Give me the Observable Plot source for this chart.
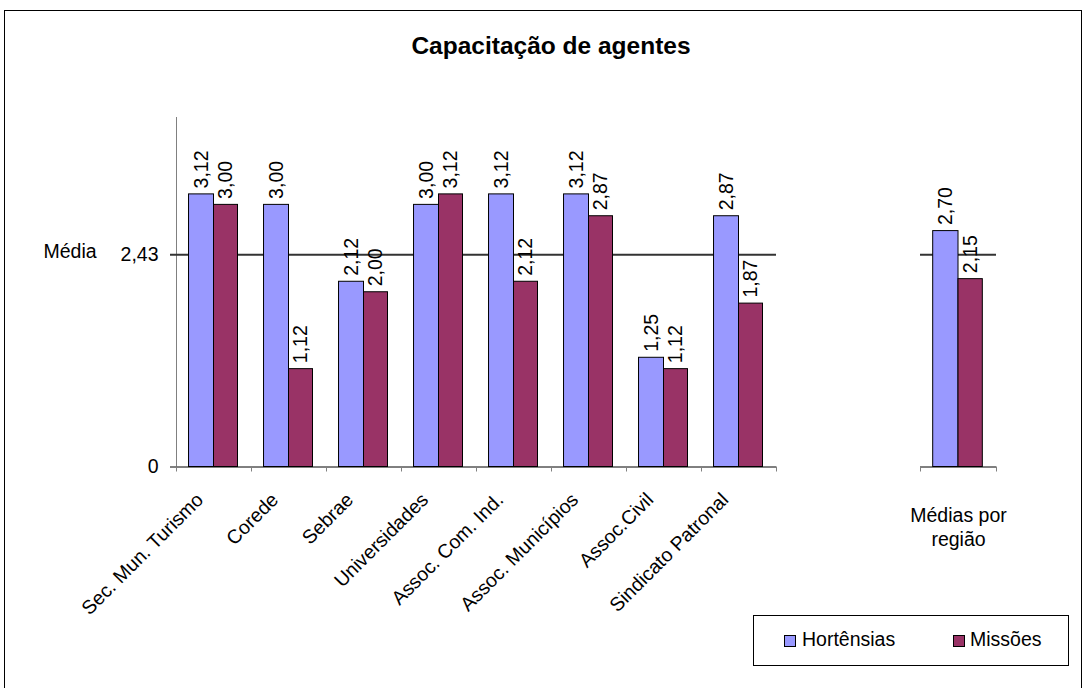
<!DOCTYPE html>
<html>
<head>
<meta charset="utf-8">
<script src="https://cdn.jsdelivr.net/npm/d3@7"></script>
<script src="https://cdn.jsdelivr.net/npm/@observablehq/plot@0.6"></script>
<style>
  html, body { margin: 0; padding: 0; background: #fff; }
  #chart { position: relative; width: 1086px; height: 688px; overflow: hidden;
           font-family: "Liberation Sans", Arial, sans-serif; color: #000; }
  #frame { position: absolute; left: 4px; top: 10px; width: 1078px; height: 700px;
           border: 1px solid #000; box-sizing: border-box; }
  #title { position: absolute; left: 0; top: 34px; width: 1102px; text-align: center;
           font-size: 24.5px; line-height: 24.5px; font-weight: bold; }
  #left { position: absolute; left: 0; top: 0; }
  #right { position: absolute; left: 860px; top: 0; }
  #legend { position: absolute; left: 753px; top: 615px; width: 316px; height: 51px;
            border: 1px solid #000; box-sizing: border-box; background: #fff; }
  .sw { position: absolute; width: 12px; height: 12px; border: 1px solid #000; box-sizing: border-box; }
  .lt { position: absolute; font-size: 19.5px; line-height: 20px; white-space: nowrap; }
</style>
</head>
<body>
<div id="chart">
  <div id="frame"></div>
  <div id="title">Capacitação de agentes</div>
  <div id="left"></div>
  <div id="right"></div>
  <div id="legend"></div>
</div>
<script>
// ---- data ----
const categories = ["Sec. Mun. Turismo", "Corede", "Sebrae", "Universidades",
  "Assoc. Com. Ind.", "Assoc. Municípios", "Assoc.Civil", "Sindicato Patronal"];
const hortensias = [3.12, 3.00, 2.12, 3.00, 3.12, 3.12, 1.25, 2.87];
const missoes    = [3.00, 1.12, 2.00, 3.12, 2.12, 2.87, 1.12, 1.87];
const regionCategory = ["Médias por\nregião"];
const regionHortensias = [2.70];
const regionMissoes = [2.15];
const media = 2.43;
const mediaLabel = "Média";
const yTicks = [0, 2.43];
const yTickLabels = ["0", "2,43"];
const series = ["Hortênsias", "Missões"];
const colors = ["#9999FF", "#993366"];
const yMax = 4;

const fmt = v => v.toFixed(2).replace(".", ",");
const font = { fontFamily: "'Liberation Sans', Arial, sans-serif", fontSize: "19.5px",
               overflow: "visible", background: "transparent", color: "#000" };

function rows(cats, a, b) {
  return cats.flatMap((c, i) => [
    { cat: c, serie: series[0], value: a[i] },
    { cat: c, serie: series[1], value: b[i] }
  ]);
}

function panelMarks(cats, data, bw) {
  const h = data.filter(d => d.serie === series[0]);
  const m = data.filter(d => d.serie === series[1]);
  const bL = [0.167, 0.5], mL = [0.5, 0.82];
  const cH = ((bL[0] + bL[1]) / 2 - 0.5) * bw;
  const cM = ((mL[0] + mL[1]) / 2 - 0.5) * bw;
  return [
    Plot.ruleY([media], { y: d => d, stroke: "#333", strokeWidth: 2, insetLeft: cats.length > 1 ? -6 : 0 }),
    Plot.barY(h, { x: "cat", y: "value", fill: colors[0], stroke: "#000", strokeWidth: 1,
                   insetLeft: bL[0] * bw, insetRight: (1 - bL[1]) * bw }),
    Plot.barY(m, { x: "cat", y: "value", fill: colors[1], stroke: "#000", strokeWidth: 1,
                   insetLeft: mL[0] * bw, insetRight: (1 - mL[1]) * bw }),
    Plot.ruleY([0], { y: d => d, stroke: "#000", strokeWidth: 1, insetLeft: cats.length > 1 ? -6 : 0 }),
    Plot.text(h, { x: "cat", y: "value", text: d => fmt(d.value), rotate: -90,
                   textAnchor: "start", dx: cH, dy: -6 }),
    Plot.text(m, { x: "cat", y: "value", text: d => fmt(d.value), rotate: -90,
                   textAnchor: "start", dx: cM, dy: -6 }),
    // category boundary ticks
    Plot.ruleX(cats, { x: d => d, y1: 0, y2: 0, dx: -bw / 2, insetBottom: -5, stroke: "#808080" }),
    Plot.ruleX([cats[cats.length - 1]], { x: d => d, y1: 0, y2: 0, dx: bw / 2, insetBottom: -5, stroke: "#808080" })
  ];
}

// ---- left panel ----
const leftData = rows(categories, hortensias, missoes);
const bwL = 75;
const left = Plot.plot({
  width: 800, height: 688,
  marginLeft: 176, marginRight: 24, marginTop: 117, marginBottom: 221.5,
  style: font,
  x: { type: "band", domain: categories, padding: 0, axis: null },
  y: { domain: [0, yMax], axis: null },
  marks: [
    Plot.ruleX([categories[0]], { x: d => d, y1: 0, y2: yMax, dx: -bwL / 2, stroke: "#808080" }),
    ...panelMarks(categories, leftData, bwL),
    Plot.text(yTicks, { y: d => d, text: (d, i) => yTickLabels[i], frameAnchor: "left",
                        textAnchor: "end", dx: -18 }),
    Plot.text([media], { y: d => d, text: () => mediaLabel, frameAnchor: "left",
                         textAnchor: "start", dx: -133, dy: -3 }),
    Plot.text(categories, { x: d => d, text: d => d, frameAnchor: "bottom", rotate: -45,
                            textAnchor: "end", dx: -9.5, dy: 34 })
  ]
});
document.getElementById("left").appendChild(left);

// ---- right panel ----
const rightData = rows(regionCategory, regionHortensias, regionMissoes);
const bwR = 76;
const right = Plot.plot({
  width: 226, height: 688,
  marginLeft: 60, marginRight: 90, marginTop: 117, marginBottom: 221.5,
  style: font,
  x: { type: "band", domain: regionCategory, padding: 0, axis: null },
  y: { domain: [0, yMax], axis: null },
  marks: [
    ...panelMarks(regionCategory, rightData, bwR),
    Plot.text(regionCategory, { x: d => d, text: d => d, frameAnchor: "bottom",
                                lineAnchor: "top", lineHeight: 1.2, dy: 38.5 })
  ]
});
document.getElementById("right").appendChild(right);

// ---- legend ----
const legend = document.getElementById("legend");
const swX = [30, 199], txX = [48, 216];
series.forEach((s, i) => {
  const sw = document.createElement("div");
  sw.className = "sw";
  sw.style.left = swX[i] + "px"; sw.style.top = "19px"; sw.style.background = colors[i];
  const t = document.createElement("div");
  t.className = "lt";
  t.style.left = txX[i] + "px"; t.style.top = "12.5px";
  t.textContent = s;
  legend.appendChild(sw); legend.appendChild(t);
});
</script>
</body>
</html>
